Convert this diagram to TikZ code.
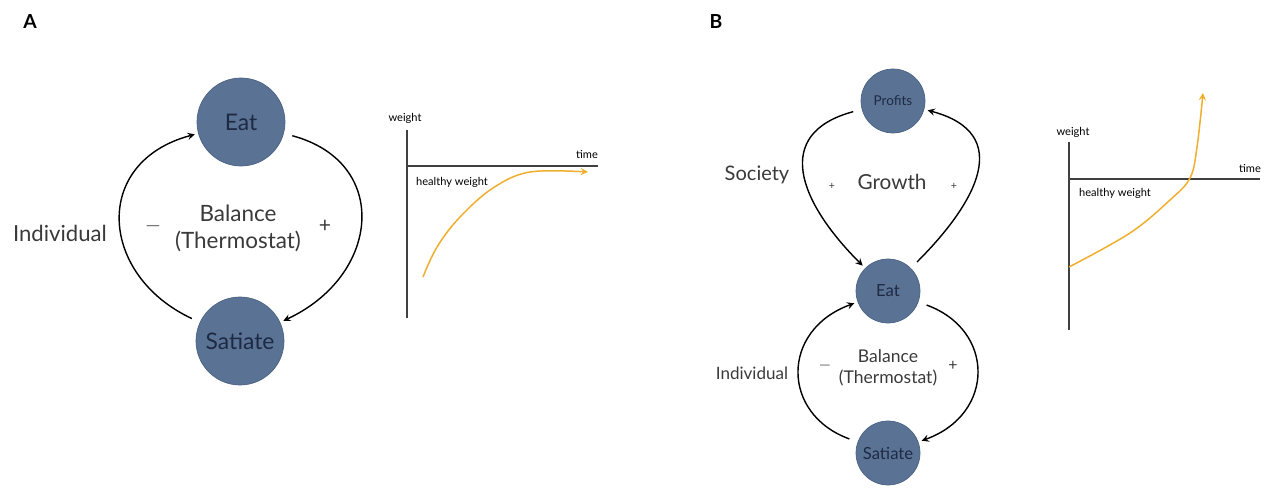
\documentclass[tikz,border=0pt]{standalone}
\usepackage{fontspec}
\setmainfont{Lato}
\usepackage{tikz}
\usetikzlibrary{arrows}

\definecolor{nodeblue}{HTML}{5A7394}
\definecolor{nodeedge}{HTML}{4C6383}
\definecolor{nodetext}{HTML}{1E2A44}
\definecolor{labelgray}{HTML}{3A3A3A}
\definecolor{axisgray}{HTML}{404040}
\definecolor{trendorange}{HTML}{F0AE2E}

\tikzset{
    bigstate/.style={circle, fill=nodeblue, draw=nodeedge, text=nodetext, inner sep=0pt, minimum size=1.76cm, font=\fontsize{13}{15}\selectfont},
    smallstate/.style={circle, fill=nodeblue, draw=nodeedge, text=nodetext, inner sep=0pt, minimum size=1.28cm, font=\fontsize{9.5}{11}\selectfont},
    looplabel/.style={text=labelgray, inner sep=1pt, align=center},
    panel/.style={font=\bfseries\fontsize{11}{13}\selectfont, inner sep=0pt},
    tinylabel/.style={text=black, inner sep=0pt, font=\fontsize{6.3}{7}\selectfont},
    loop/.style={->, line width=0.8pt, shorten <=5pt, shorten >=2pt},
    axis/.style={draw=axisgray, line width=0.85pt},
    trend/.style={->, draw=trendorange, line width=0.85pt}
}

\begin{document}
\begin{tikzpicture}[>=stealth, x=0.02cm, y=0.02cm]
    \useasboundingbox (0,0) rectangle (1267,487);

    % panel A
    \node[panel] (labA) at (30,465) {A};
    \node[bigstate] (eatA) at (241,365) {Eat};
    \node[bigstate] (satA) at (240,146) {Satiate};
    \node[looplabel, font=\fontsize{12.6}{14}\selectfont] (indA) at (60,254) {Individual};
    \node[looplabel, font=\fontsize{12.8}{15.5}\selectfont] (balA) at (238,259) {Balance\\(Thermostat)};
    \node[looplabel, font=\fontsize{12}{14}\selectfont] (minA) at (153,261) {$-$};
    \node[looplabel, font=\fontsize{12}{14}\selectfont] (plusA) at (325,261) {+};

    \draw[loop] (satA) to[out=155, in=195, looseness=1.5] (eatA);
    \draw[loop] (eatA) to[out=-15, in=25, looseness=1.5] (satA);

    \coordinate (oA) at (407,321);
    \coordinate (topA) at (407,357);
    \coordinate (botA) at (407,169);
    \coordinate (rightA) at (598,321);
    \draw[axis] (topA) -- (botA);
    \draw[axis] (oA) -- (rightA);
    \node[tinylabel] (weightA) at (405,369) {weight};
    \node[tinylabel] (timeA) at (587,333) {time};
    \node[tinylabel] (healthyA) at (452,305) {healthy weight};
    \draw[trend] plot[smooth, tension=0.6] coordinates {(423,210) (437,240) (460,270) (493,299) (530,315) (588,315)};

    % panel B
    \node[panel] (labB) at (716,465) {B};
    \node[smallstate, font=\fontsize{7.7}{9}\selectfont] (profB) at (893,386) {Profits};
    \node[smallstate] (eatB) at (888,196) {Eat};
    \node[smallstate] (satB) at (888,34) {Satiate};
    \node[looplabel, font=\fontsize{11.4}{13}\selectfont] (socB) at (757,312) {Society};
    \node[looplabel, font=\fontsize{11.8}{13}\selectfont] (growB) at (892,305) {Growth};
    \node[looplabel, font=\fontsize{6}{7}\selectfont] (plusB1) at (832,301) {+};
    \node[looplabel, font=\fontsize{6}{7}\selectfont] (plusB2) at (954,301) {+};
    \node[looplabel, font=\fontsize{9.7}{11}\selectfont] (indB) at (752,114) {Individual};
    \node[looplabel, font=\fontsize{10}{12}\selectfont] (balB) at (888,119) {Balance\\(Thermostat)};
    \node[looplabel, font=\fontsize{9}{11}\selectfont] (minB) at (825,121) {$-$};
    \node[looplabel, font=\fontsize{9}{11}\selectfont] (plusB) at (953,121) {+};

    \draw[loop] (profB) to[out=195, in=135, looseness=1.5] (eatB);
    \draw[loop] (eatB) to[out=45, in=-15, looseness=1.5] (profB);
    \draw[loop] (satB) to[out=160, in=200, looseness=1.5] (eatB);
    \draw[loop] (eatB) to[out=-20, in=20, looseness=1.5] (satB);

    \coordinate (oB) at (1069,308);
    \coordinate (topB) at (1069,345);
    \coordinate (botB) at (1069,157);
    \coordinate (rightB) at (1260,308);
    \draw[axis] (topB) -- (botB);
    \draw[axis] (oB) -- (rightB);
    \node[tinylabel] (weightB) at (1073,355) {weight};
    \node[tinylabel] (timeB) at (1250,319) {time};
    \node[tinylabel] (healthyB) at (1115,294) {healthy weight};
    \draw[trend] plot[smooth, tension=0.6] coordinates {(1069,220) (1130,254) (1170,287) (1190,309) (1197,340) (1203,394)};
\end{tikzpicture}
\end{document}
